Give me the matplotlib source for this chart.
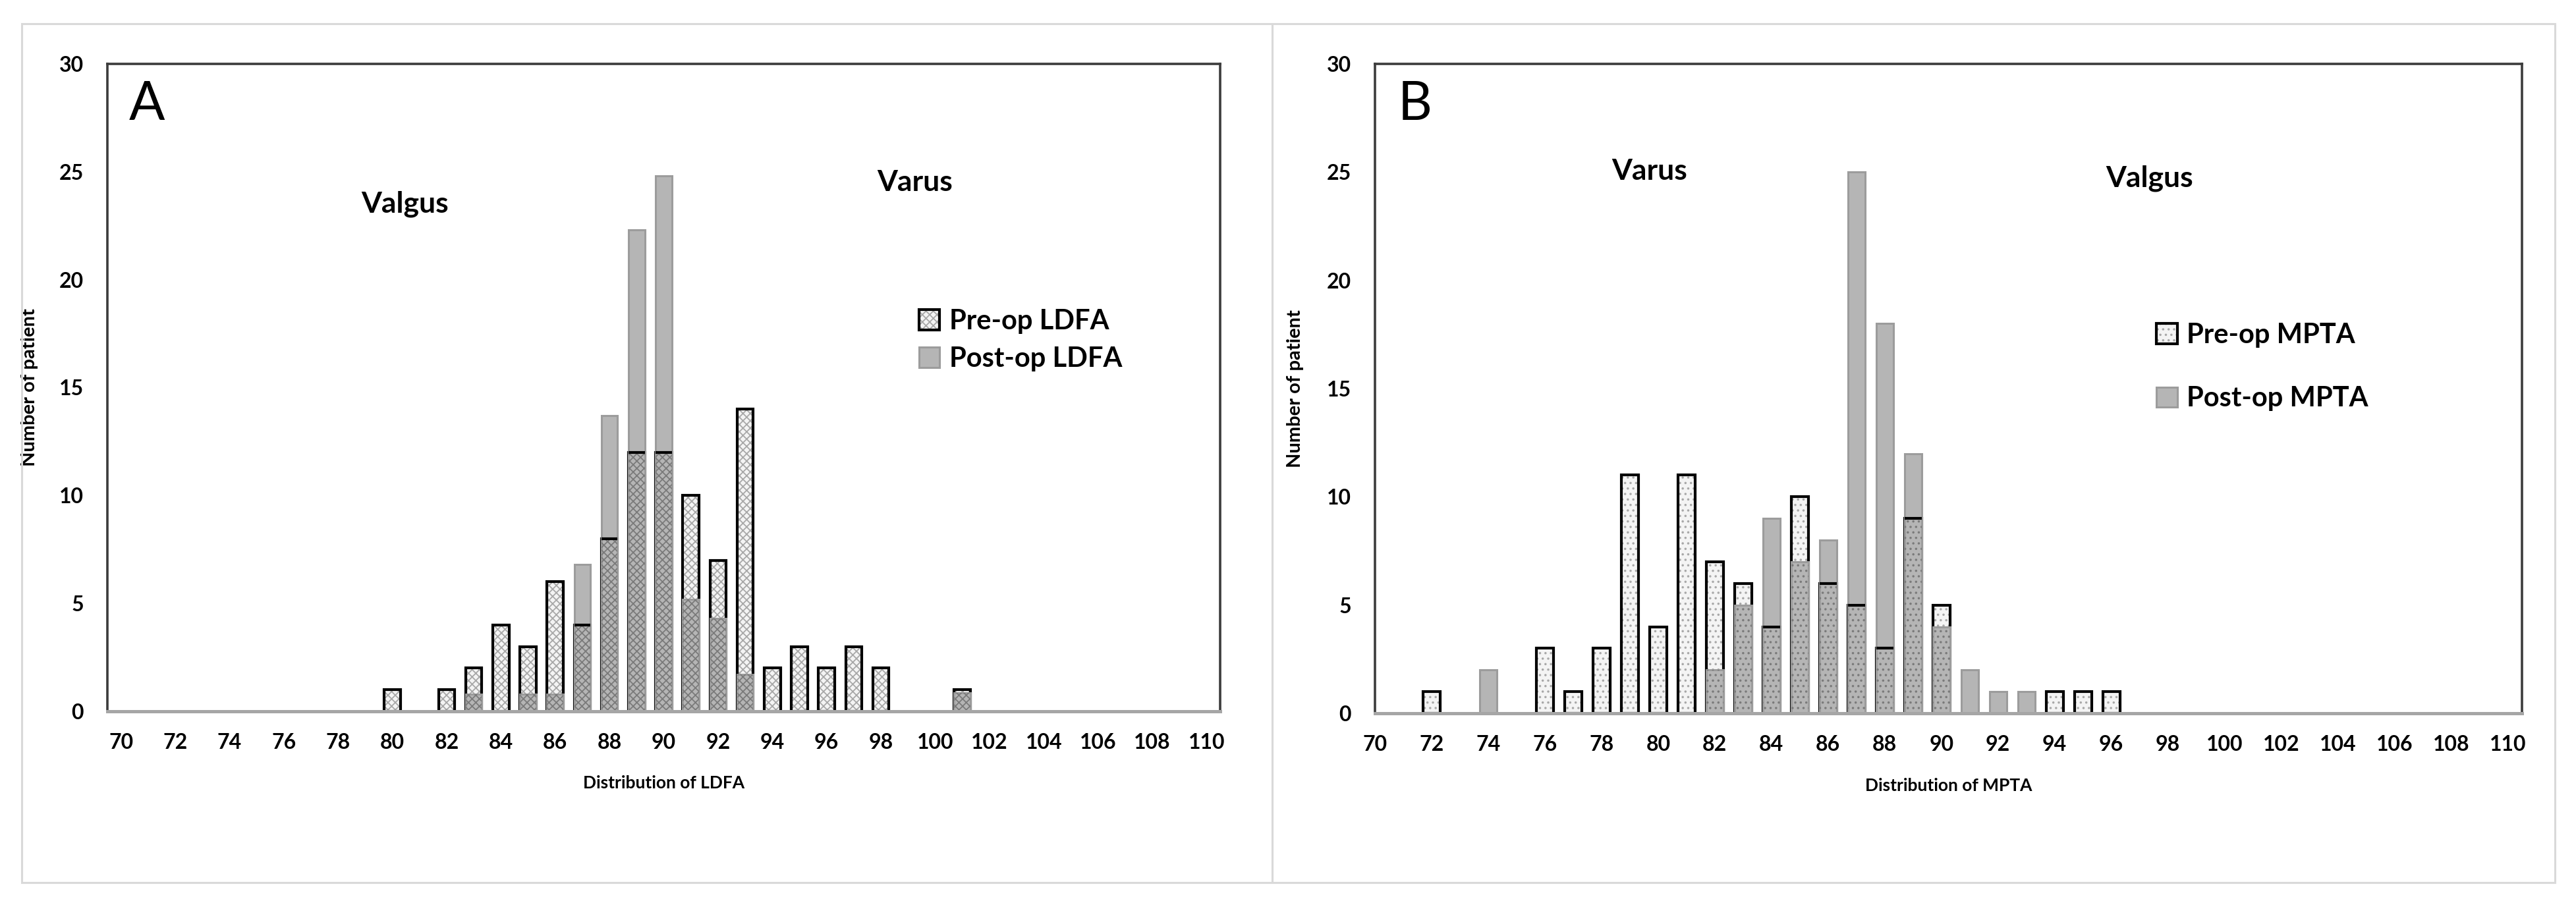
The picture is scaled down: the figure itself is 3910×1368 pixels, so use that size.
#!/usr/bin/env python3
"""
Pre-op vs post-op distribution of LDFA (A) and MPTA (B).
Overlapping bars, Excel-like look, saved as out.png.
"""

import numpy as np
import matplotlib
matplotlib.use("Agg")
import matplotlib.pyplot as plt
from matplotlib.patches import Patch, Rectangle
from matplotlib.legend_handler import HandlerTuple

# === DATA ===
ldfa_angle = [80, 82, 83, 84, 85, 86, 87, 88, 89, 90, 91, 92, 93, 94, 95, 96, 97, 98, 101]
ldfa_pre = [1, 1, 2, 4, 3, 6, 4, 8, 12, 12, 10, 7, 14, 2, 3, 2, 3, 2, 1]
ldfa_post = [0, 0, 0.8, 0, 0.8, 0.8, 6.8, 13.7, 22.3, 24.8, 5.2, 4.3, 1.7, 0, 0, 0, 0, 0, 0.85]

mpta_angle = [72, 74, 76, 77, 78, 79, 80, 81, 82, 83, 84, 85, 86, 87, 88, 89, 90, 91, 92, 93, 94, 95, 96]
mpta_pre = [1, 0, 3, 1, 3, 11, 4, 11, 7, 6, 4, 10, 6, 5, 3, 9, 5, 0, 0, 0, 1, 1, 1]
mpta_post = [0, 2, 0, 0, 0, 0, 0, 0, 2, 5, 9, 7, 8, 25, 18, 12, 4, 2, 1, 1, 0, 0, 0]

x_ticks = list(range(70, 111, 2))
y_ticks = list(range(0, 31, 5))

# === STYLE ===
W, H, DPI = 3910, 1368, 100
BAR_W = 0.6
PRE_FILL = "#f4f4f4"
PRE_DOT = "#a8a8a8"
POST_FILL = "#b5b5b5"
POST_EDGE = "#9c9c9c"
OVER_DOT = "#7a7a7a"
FRAME = "#3c3c3c"
BASE = "#a6a6a6"

plt.rcParams["font.family"] = ["Lato", "DejaVu Sans"]
plt.rcParams["hatch.linewidth"] = 1.3


def draw_panel(ax, angle, pre, post, hatch, xlim, xname, letter, letter_xy,
               left_word, left_xy, right_word, right_xy,
               pre_label, post_label, leg_xy, leg_spacing):
    angle = np.array(angle, dtype=float)
    pre = np.array(pre, dtype=float)
    post = np.array(post, dtype=float)
    has_pre = pre > 0

    # pre-op: dotted light fill, then black outline
    ax.bar(angle, pre, BAR_W, color=PRE_FILL, hatch=hatch, edgecolor=PRE_DOT,
           linewidth=0, zorder=2)
    ax.bar(angle[has_pre], pre[has_pre], BAR_W, fill=False, edgecolor="black",
           linewidth=3, zorder=2.1)

    # post-op: grey bar in front
    has_post = post > 0
    ax.bar(angle[has_post], post[has_post], BAR_W, color=POST_FILL,
           edgecolor=POST_EDGE, linewidth=2.2, zorder=3)

    # where both overlap the pattern still shows through
    overlap = np.minimum(pre, post)
    ax.bar(angle, overlap, BAR_W, fill=False, hatch=hatch, edgecolor=OVER_DOT,
           linewidth=0, zorder=4)

    # pre-op top line visible inside taller post-op bars
    inside = has_pre & (post > pre)
    ax.hlines(pre[inside], angle[inside] - BAR_W / 2, angle[inside] + BAR_W / 2,
              color="black", linewidth=3, zorder=5)

    ax.set_xlim(*xlim)
    ax.set_ylim(0, 30)
    ax.set_xticks(x_ticks)
    ax.set_yticks(y_ticks)
    ax.tick_params(length=0, labelsize=23)
    ax.tick_params(axis="x", pad=24)
    ax.tick_params(axis="y", pad=26)
    for lab in ax.get_xticklabels() + ax.get_yticklabels():
        lab.set_fontweight("bold")

    for side in ["left", "top", "right"]:
        ax.spines[side].set_color(FRAME)
        ax.spines[side].set_linewidth(2.6)
    ax.spines["bottom"].set_color(BASE)
    ax.spines["bottom"].set_linewidth(3.6)
    ax.spines["bottom"].set_zorder(6)

    ax.set_xlabel(xname, fontsize=19, fontweight="bold")
    ax.xaxis.set_label_coords(0.5, -0.099)
    ax.set_ylabel("Number of patient", fontsize=21, fontweight="bold")
    ax.yaxis.set_label_coords(-0.062, 0.5)

    ax.text(*letter_xy, letter, fontsize=58, ha="center", va="center")
    ax.text(*left_xy, left_word, fontsize=32, fontweight="bold",
            ha="center", va="center")
    ax.text(*right_xy, right_word, fontsize=32, fontweight="bold",
            ha="center", va="center")

    # legend swatch for pre-op = light dotted fill + black frame
    pre_fill = Patch(facecolor=PRE_FILL, edgecolor=PRE_DOT, hatch=hatch, linewidth=0)
    pre_frame = Patch(fill=False, edgecolor="black", linewidth=3)
    post_patch = Patch(facecolor=POST_FILL, edgecolor=POST_EDGE, linewidth=2.2)
    leg = ax.legend(handles=[(pre_fill, pre_frame), post_patch],
                    labels=[pre_label, post_label],
                    handler_map={tuple: HandlerTuple(ndivide=1, pad=0)},
                    loc="center left", bbox_to_anchor=leg_xy,
                    bbox_transform=ax.transData, frameon=False, fontsize=30,
                    handlelength=0.75, handleheight=0.75, handletextpad=0.35,
                    labelspacing=leg_spacing, borderpad=0, borderaxespad=0)
    for t in leg.get_texts():
        t.set_fontweight("bold")


def main():
    fig = plt.figure(figsize=(W / DPI, H / DPI), dpi=DPI)

    # light grey boxes around each panel
    for x0, x1 in [(33, 1931), (1931, 3878)]:
        fig.patches.append(Rectangle((x0 / W, 1 - 1340 / H), (x1 - x0) / W,
                                     (1340 - 36) / H, transform=fig.transFigure,
                                     fill=False, edgecolor="#d9d9d9",
                                     linewidth=2.2))

    ax_a = fig.add_axes([163 / W, 1 - 1080 / H, (1852 - 163) / W, (1080 - 97) / H])
    ax_b = fig.add_axes([2087 / W, 1 - 1083 / H, (3828 - 2087) / W, (1083 - 97) / H])

    draw_panel(ax_a, ldfa_angle, ldfa_pre, ldfa_post, "xxx", (69.5, 110.5),
               "Distribution of LDFA", "A", (70.96, 28.1),
               "Valgus", (80.45, 23.5), "Varus", (99.25, 24.5),
               "Pre-op LDFA", "Post-op LDFA", (99.4, 17.2), 0.45)
    draw_panel(ax_b, mpta_angle, mpta_pre, mpta_post, "..", (70, 110.5),
               "Distribution of MPTA", "B", (71.4, 28.1),
               "Varus", (79.7, 25.05), "Valgus", (97.35, 24.7),
               "Pre-op MPTA", "Post-op MPTA", (97.6, 16.0), 1.4)

    fig.savefig("out.png", dpi=DPI)
    print("[INFO] Saved out.png")


if __name__ == "__main__":
    main()
